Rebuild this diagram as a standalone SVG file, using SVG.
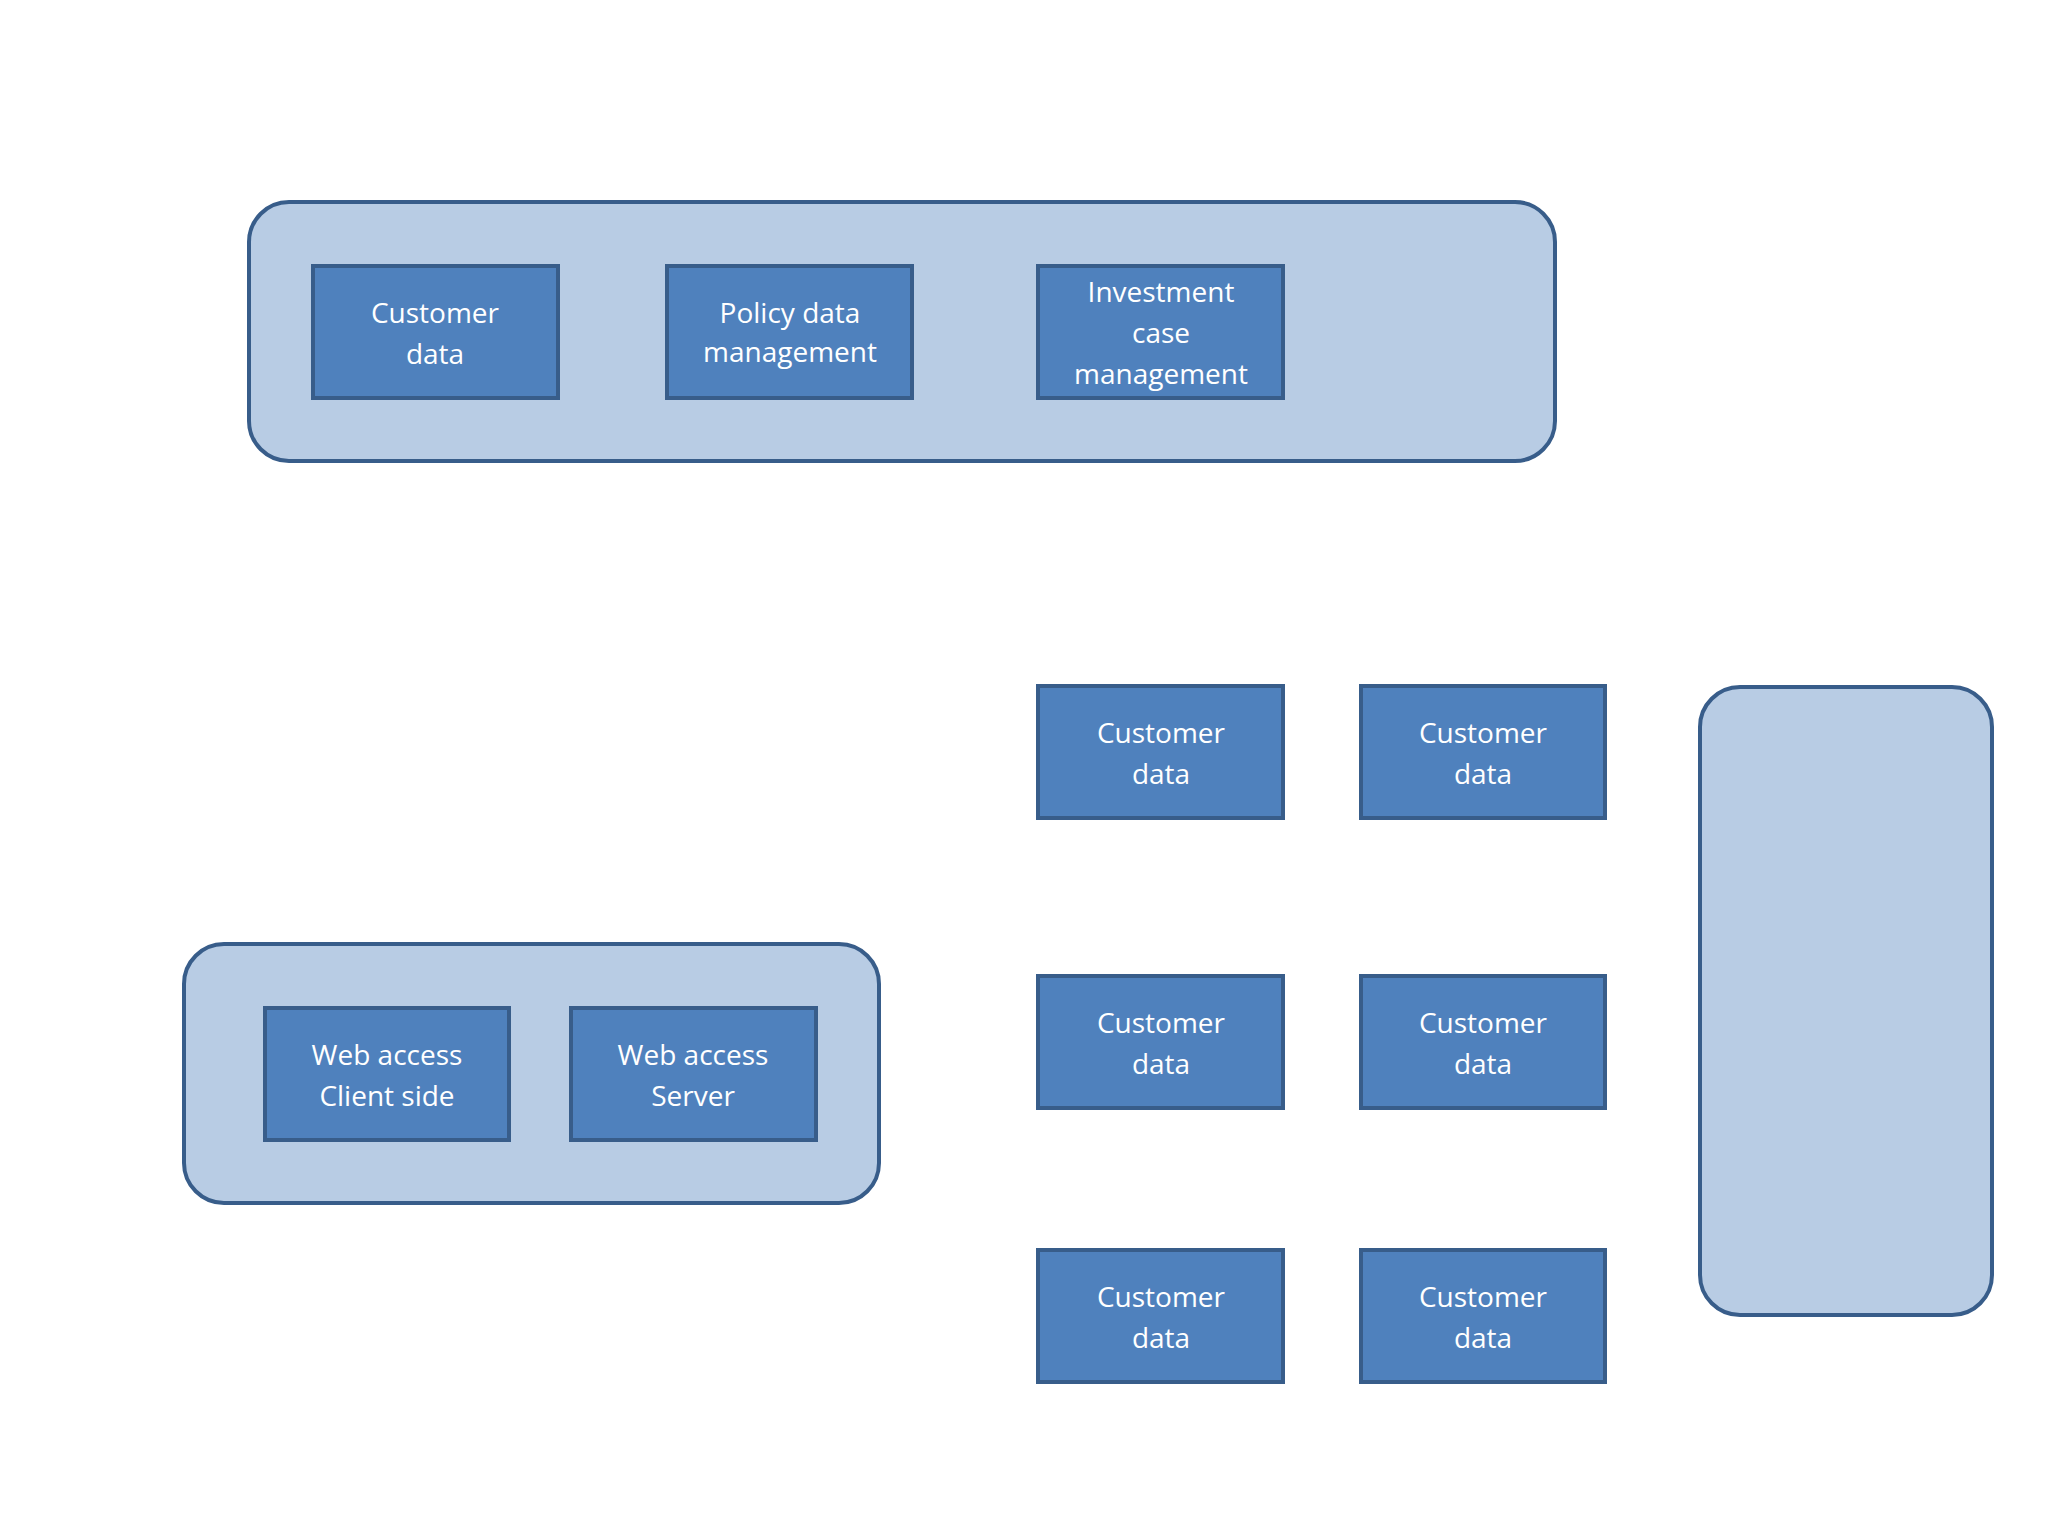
<svg xmlns="http://www.w3.org/2000/svg" width="2048" height="1536" viewBox="0 0 2048 1536">
<style>
.c{fill:#B8CCE4;stroke:#385D8A;stroke-width:4}
.b{fill:#4F81BD;stroke:#385D8A;stroke-width:4}
.t{fill:#fff;font-family:"Open Sans","Noto Sans",sans-serif;font-size:28px;text-anchor:middle}
</style>
<rect width="2048" height="1536" fill="#fff"/>
<g id="top-group"><rect class="c" x="249" y="202" width="1306" height="259" rx="40"/></g>
<g id="n1"><rect class="b" x="313" y="266" width="245" height="132"/><text class="t" x="435" y="323">Customer</text><text class="t" x="435" y="364">data</text></g>
<g id="n2"><rect class="b" x="667" y="266" width="245" height="132"/><text class="t" x="790" y="323">Policy data</text><text class="t" x="790" y="362">management</text></g>
<g id="n3"><rect class="b" x="1038" y="266" width="245" height="132"/><text class="t" x="1161" y="302">Investment</text><text class="t" x="1161" y="343">case</text><text class="t" x="1161" y="384">management</text></g>
<g id="right-group"><rect class="c" x="1700" y="687" width="292" height="628" rx="40"/></g>
<g id="bl-group"><rect class="c" x="184" y="944" width="695" height="259" rx="40"/></g>
<g id="w1"><rect class="b" x="265" y="1008" width="244" height="132"/><text class="t" x="387" y="1065">Web access</text><text class="t" x="387" y="1106">Client side</text></g>
<g id="w2"><rect class="b" x="571" y="1008" width="245" height="132"/><text class="t" x="693" y="1065">Web access</text><text class="t" x="693" y="1106">Server</text></g>
<g id="g1"><rect class="b" x="1038" y="686" width="245" height="132"/><text class="t" x="1161" y="743">Customer</text><text class="t" x="1161" y="784">data</text></g>
<g id="g2"><rect class="b" x="1361" y="686" width="244" height="132"/><text class="t" x="1483" y="743">Customer</text><text class="t" x="1483" y="784">data</text></g>
<g id="g3"><rect class="b" x="1038" y="976" width="245" height="132"/><text class="t" x="1161" y="1033">Customer</text><text class="t" x="1161" y="1074">data</text></g>
<g id="g4"><rect class="b" x="1361" y="976" width="244" height="132"/><text class="t" x="1483" y="1033">Customer</text><text class="t" x="1483" y="1074">data</text></g>
<g id="g5"><rect class="b" x="1038" y="1250" width="245" height="132"/><text class="t" x="1161" y="1307">Customer</text><text class="t" x="1161" y="1348">data</text></g>
<g id="g6"><rect class="b" x="1361" y="1250" width="244" height="132"/><text class="t" x="1483" y="1307">Customer</text><text class="t" x="1483" y="1348">data</text></g>
<g id="connectors"/>
</svg>
